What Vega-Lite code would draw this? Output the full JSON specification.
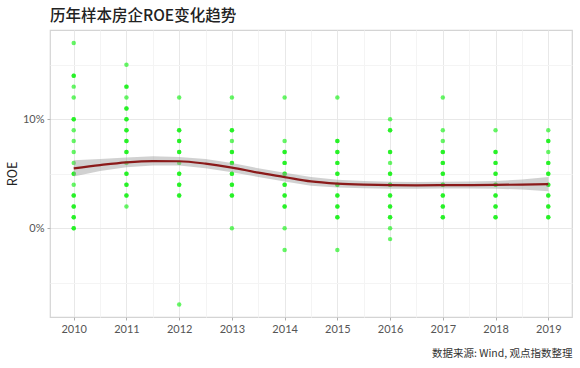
{
  "$schema": "https://vega.github.io/schema/vega-lite/v6.json",
  "width": 522,
  "height": 287,
  "autosize": {"type": "none"},
  "padding": {"left": 50, "top": 30, "right": 8, "bottom": 51},
  "background": "white",
  "config": {
    "font": "Noto Sans CJK SC",
    "view": {"stroke": "#d4d4d4", "strokeWidth": 1.2}
  },
  "title": {
    "text": "历年样本房企ROE变化趋势",
    "anchor": "start",
    "frame": "group",
    "fontSize": 15.5,
    "fontWeight": 500,
    "color": "#222222",
    "offset": 6
  },
  "datasets": {
    "pts": [
      {"year":2010,"roe":17},{"year":2010,"roe":14},{"year":2010,"roe":14},{"year":2010,"roe":13},{"year":2010,"roe":12},{"year":2010,"roe":10},{"year":2010,"roe":10},{"year":2010,"roe":9},{"year":2010,"roe":8},{"year":2010,"roe":7},{"year":2010,"roe":6},{"year":2010,"roe":5},{"year":2010,"roe":5},{"year":2010,"roe":4},{"year":2010,"roe":3},{"year":2010,"roe":3},{"year":2010,"roe":2},{"year":2010,"roe":2},{"year":2010,"roe":1},{"year":2010,"roe":1},{"year":2010,"roe":0},{"year":2010,"roe":0},
      {"year":2011,"roe":15},{"year":2011,"roe":13},{"year":2011,"roe":13},{"year":2011,"roe":12},{"year":2011,"roe":11},{"year":2011,"roe":11},{"year":2011,"roe":10},{"year":2011,"roe":10},{"year":2011,"roe":9},{"year":2011,"roe":9},{"year":2011,"roe":8},{"year":2011,"roe":8},{"year":2011,"roe":7},{"year":2011,"roe":7},{"year":2011,"roe":6},{"year":2011,"roe":5},{"year":2011,"roe":5},{"year":2011,"roe":4},{"year":2011,"roe":4},{"year":2011,"roe":3},{"year":2011,"roe":3},{"year":2011,"roe":2},
      {"year":2012,"roe":12},{"year":2012,"roe":9},{"year":2012,"roe":9},{"year":2012,"roe":8},{"year":2012,"roe":8},{"year":2012,"roe":7},{"year":2012,"roe":7},{"year":2012,"roe":6},{"year":2012,"roe":5},{"year":2012,"roe":5},{"year":2012,"roe":4},{"year":2012,"roe":4},{"year":2012,"roe":3},{"year":2012,"roe":3},{"year":2012,"roe":-7},
      {"year":2013,"roe":12},{"year":2013,"roe":9},{"year":2013,"roe":9},{"year":2013,"roe":8},{"year":2013,"roe":7},{"year":2013,"roe":7},{"year":2013,"roe":6},{"year":2013,"roe":6},{"year":2013,"roe":5},{"year":2013,"roe":5},{"year":2013,"roe":4},{"year":2013,"roe":4},{"year":2013,"roe":3},{"year":2013,"roe":3},{"year":2013,"roe":0},
      {"year":2014,"roe":12},{"year":2014,"roe":8},{"year":2014,"roe":7},{"year":2014,"roe":7},{"year":2014,"roe":6},{"year":2014,"roe":6},{"year":2014,"roe":5},{"year":2014,"roe":5},{"year":2014,"roe":4},{"year":2014,"roe":4},{"year":2014,"roe":3},{"year":2014,"roe":3},{"year":2014,"roe":2},{"year":2014,"roe":2},{"year":2014,"roe":0},{"year":2014,"roe":-2},
      {"year":2015,"roe":12},{"year":2015,"roe":8},{"year":2015,"roe":8},{"year":2015,"roe":7},{"year":2015,"roe":7},{"year":2015,"roe":6},{"year":2015,"roe":6},{"year":2015,"roe":5},{"year":2015,"roe":5},{"year":2015,"roe":4},{"year":2015,"roe":4},{"year":2015,"roe":3},{"year":2015,"roe":3},{"year":2015,"roe":2},{"year":2015,"roe":2},{"year":2015,"roe":1},{"year":2015,"roe":1},{"year":2015,"roe":-2},
      {"year":2016,"roe":10},{"year":2016,"roe":9},{"year":2016,"roe":9},{"year":2016,"roe":7},{"year":2016,"roe":7},{"year":2016,"roe":6},{"year":2016,"roe":5},{"year":2016,"roe":5},{"year":2016,"roe":4},{"year":2016,"roe":4},{"year":2016,"roe":3},{"year":2016,"roe":3},{"year":2016,"roe":2},{"year":2016,"roe":2},{"year":2016,"roe":1},{"year":2016,"roe":1},{"year":2016,"roe":0},{"year":2016,"roe":-1},
      {"year":2017,"roe":12},{"year":2017,"roe":9},{"year":2017,"roe":8},{"year":2017,"roe":7},{"year":2017,"roe":7},{"year":2017,"roe":6},{"year":2017,"roe":6},{"year":2017,"roe":5},{"year":2017,"roe":5},{"year":2017,"roe":4},{"year":2017,"roe":4},{"year":2017,"roe":3},{"year":2017,"roe":3},{"year":2017,"roe":2},{"year":2017,"roe":2},{"year":2017,"roe":1},{"year":2017,"roe":1},
      {"year":2018,"roe":9},{"year":2018,"roe":7},{"year":2018,"roe":7},{"year":2018,"roe":6},{"year":2018,"roe":6},{"year":2018,"roe":5},{"year":2018,"roe":5},{"year":2018,"roe":4},{"year":2018,"roe":4},{"year":2018,"roe":3},{"year":2018,"roe":3},{"year":2018,"roe":2},{"year":2018,"roe":2},{"year":2018,"roe":1},{"year":2018,"roe":1},
      {"year":2019,"roe":9},{"year":2019,"roe":8},{"year":2019,"roe":8},{"year":2019,"roe":7},{"year":2019,"roe":6},{"year":2019,"roe":6},{"year":2019,"roe":5},{"year":2019,"roe":5},{"year":2019,"roe":4},{"year":2019,"roe":4},{"year":2019,"roe":3},{"year":2019,"roe":3},{"year":2019,"roe":2},{"year":2019,"roe":2},{"year":2019,"roe":1},{"year":2019,"roe":1}
    ],
    "smooth": [
      {"year":2010,"fit":5.5,"lo":4.75,"hi":6.25},
      {"year":2010.5,"fit":5.8,"lo":5.25,"hi":6.35},
      {"year":2011,"fit":6.05,"lo":5.6,"hi":6.5},
      {"year":2011.5,"fit":6.17,"lo":5.75,"hi":6.6},
      {"year":2012,"fit":6.15,"lo":5.75,"hi":6.55},
      {"year":2012.5,"fit":5.93,"lo":5.5,"hi":6.35},
      {"year":2013,"fit":5.57,"lo":5.15,"hi":6.0},
      {"year":2013.5,"fit":5.1,"lo":4.7,"hi":5.5},
      {"year":2014,"fit":4.7,"lo":4.3,"hi":5.1},
      {"year":2014.5,"fit":4.3,"lo":3.9,"hi":4.7},
      {"year":2015,"fit":4.1,"lo":3.75,"hi":4.45},
      {"year":2015.5,"fit":4.0,"lo":3.67,"hi":4.33},
      {"year":2016,"fit":3.95,"lo":3.63,"hi":4.27},
      {"year":2016.5,"fit":3.94,"lo":3.63,"hi":4.25},
      {"year":2017,"fit":3.95,"lo":3.64,"hi":4.26},
      {"year":2017.5,"fit":3.96,"lo":3.64,"hi":4.28},
      {"year":2018,"fit":3.98,"lo":3.63,"hi":4.33},
      {"year":2018.5,"fit":4.01,"lo":3.55,"hi":4.47},
      {"year":2019,"fit":4.05,"lo":3.4,"hi":4.7}
    ]
  },
  "encoding": {
    "x": {
      "field": "year",
      "type": "quantitative",
      "scale": {"domain": [2009.55, 2019.45], "nice": false, "zero": false},
      "axis": {
        "values": [2010, 2010.5, 2011, 2011.5, 2012, 2012.5, 2013, 2013.5, 2014, 2014.5, 2015, 2015.5, 2016, 2016.5, 2017, 2017.5, 2018, 2018.5, 2019],
        "labelExpr": "datum.value % 1 == 0 ? format(datum.value, 'd') : ''",
        "grid": true,
        "gridColor": {"condition": {"test": "datum.value % 1 != 0", "value": "#f4f4f4"}, "value": "#e8e8e8"},
        "tickOpacity": {"condition": {"test": "datum.value % 1 != 0", "value": 0}, "value": 1},
        "tickColor": "#b0b0b0",
        "tickSize": 3,
        "domain": false,
        "labelColor": "#555555",
        "labelFontSize": 11,
        "labelPadding": 3,
        "labelFont": "Lato",
        "title": "数据来源: Wind, 观点指数整理",
        "titleAnchor": "end",
        "titleAlign": "right",
        "titleFontSize": 10.5,
        "titleFontWeight": "normal",
        "titleColor": "#333333",
        "titlePadding": 14
      }
    }
  },
  "layer": [
    {
      "data": {"name": "pts"},
      "mark": {"type": "circle", "size": 20, "color": "#00f000", "opacity": 0.6},
      "encoding": {
        "y": {
          "field": "roe",
          "type": "quantitative",
          "scale": {"domain": [-8.15, 18.2], "nice": false, "zero": false},
          "axis": {
            "values": [-5, 0, 5, 10, 15],
            "labelExpr": "datum.value == 0 || datum.value == 10 ? datum.value + '%' : ''",
            "grid": true,
            "gridColor": {"condition": {"test": "datum.value == 0 || datum.value == 10", "value": "#e8e8e8"}, "value": "#f4f4f4"},
            "tickOpacity": {"condition": {"test": "datum.value == 0 || datum.value == 10", "value": 1}, "value": 0},
            "tickColor": "#b0b0b0",
            "tickSize": 3,
            "domain": false,
            "labelColor": "#555555",
            "labelFontSize": 11,
            "labelFont": "Lato",
            "labelPadding": 3,
            "title": "ROE",
            "titleFontSize": 12.5,
            "titleFontWeight": "normal",
            "titleColor": "#222222",
            "titlePadding": 3
          }
        }
      }
    },
    {
      "data": {"name": "smooth"},
      "mark": {"type": "area", "color": "#999999", "opacity": 0.45},
      "encoding": {
        "y": {"field": "lo", "type": "quantitative"},
        "y2": {"field": "hi"}
      }
    },
    {
      "data": {"name": "smooth"},
      "mark": {"type": "line", "color": "#8b1a1a", "strokeWidth": 2.2, "interpolate": "monotone"},
      "encoding": {
        "y": {"field": "fit", "type": "quantitative"}
      }
    }
  ]
}
